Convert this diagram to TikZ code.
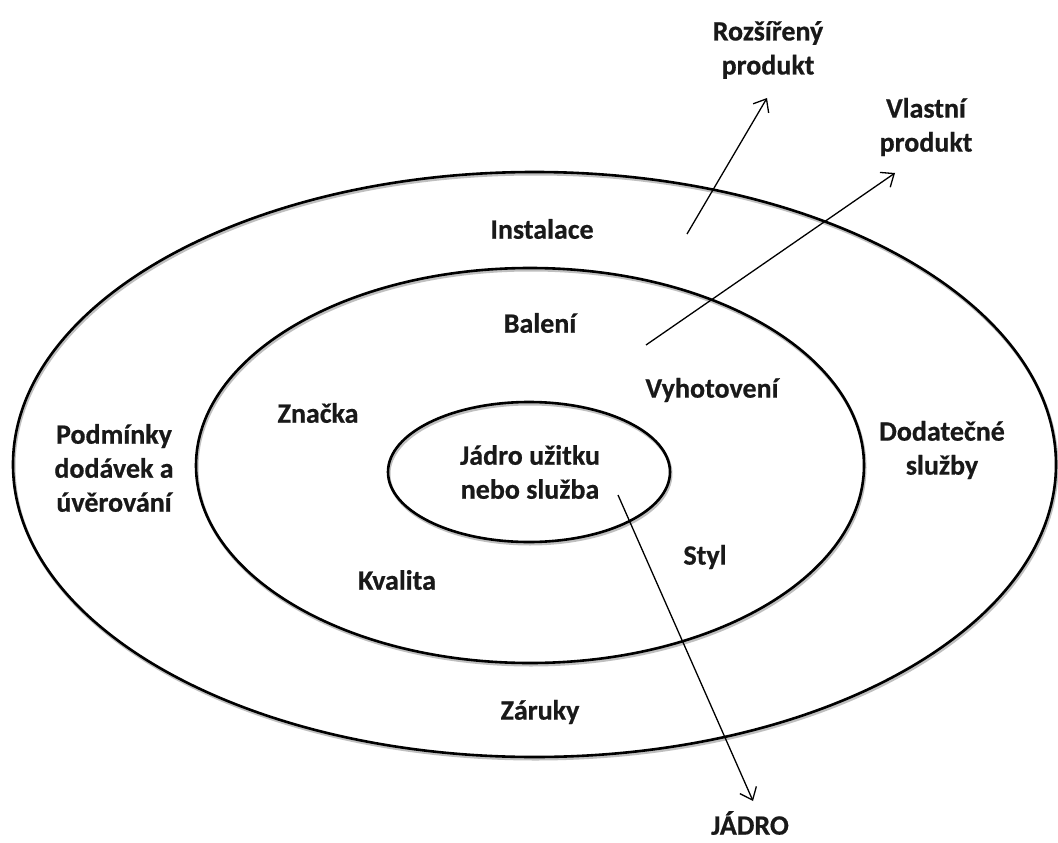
\documentclass[tikz,border=0pt]{standalone}
\usepackage{fontspec}
\setmainfont{Carlito}[BoldFeatures={FakeBold=0.6}]
\usetikzlibrary{arrows.meta}
\tikzset{
  ring/.style={line width=2.6pt, draw=black},
  ringshade/.style={line width=3pt, draw=black!25},
  lbl/.style={font=\bfseries\fontsize{28}{34}\selectfont, align=center, inner sep=0pt, text=black!90},
  pointer/.style={line width=1.3pt, -{Straight Barb[length=11pt,width=18pt,line width=1.3pt]}},
}
\begin{document}
\begin{tikzpicture}[x=1pt,y=-1pt]
\useasboundingbox[fill=white] (0,0) rectangle (1058,843);

% soft shading under the rings
\draw[ringshade] (535.5,466.5) ellipse [x radius=521.5, y radius=292.5];
\draw[ringshade] (531,467.5) ellipse [x radius=334, y radius=197.5];
\draw[ringshade] (530,474) ellipse [x radius=141, y radius=70];

% the three product levels
\draw[ring] (534.5,464.5) ellipse [x radius=521.5, y radius=292.5];
\draw[ring] (530,465.5) ellipse [x radius=334, y radius=197.5];
\draw[ring] (529,472) ellipse [x radius=141, y radius=70];

% labels
\node[lbl] (rozs) at (768,50) {Rozšířený\\produkt};
\node[lbl] (vlast) at (926,127) {Vlastní\\produkt};
\node[lbl] (inst) at (542,229) {Instalace};
\node[lbl] (bal) at (540,323) {Balení};
\node[lbl] (vyh) at (712,390) {Vyhotovení};
\node[lbl] (zn) at (318,413) {Značka};
\node[lbl] (podm) at (114,468) {Podmínky\\dodávek a\\úvěrování};
\node[lbl] (dod) at (942,450) {Dodatečné\\služby};
\node[lbl] (jadro) at (530,472) {Jádro užitku\\nebo služba};
\node[lbl] (styl) at (705,557) {Styl};
\node[lbl] (kval) at (397,580) {Kvalita};
\node[lbl] (zar) at (540,712) {Záruky};
\node[lbl] (jad) at (750,823) {JÁDRO};

% arrow ends
\coordinate (rtail) at (687,234);
\coordinate (rhead) at (767,98);
\coordinate (vtail) at (646,345);
\coordinate (vhead) at (895,173);
\coordinate (jtail) at (618,495);
\coordinate (jhead) at (753,801);

\draw[pointer] (rtail) -- (rhead);
\draw[pointer] (vtail) -- (vhead);
\draw[pointer] (jtail) -- (jhead);
\end{tikzpicture}
\end{document}
